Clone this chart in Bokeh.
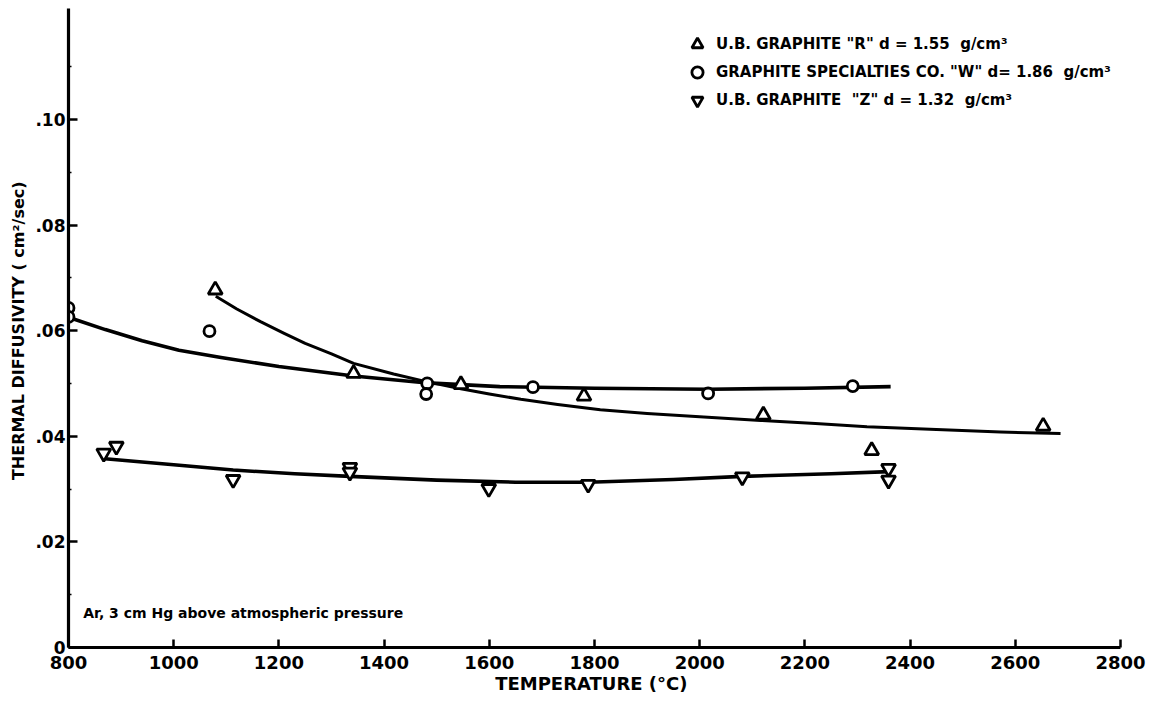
from bokeh.plotting import figure
from bokeh.models import FixedTicker, Legend, LegendItem, Label, Range1d
from bokeh.embed import file_html
from bokeh.resources import INLINE

# Measured points, temperature (deg C) vs thermal diffusivity (cm^2/sec)
r_temp = [1079, 1342, 1546, 1780, 2121, 2327, 2653]
r_diff = [0.0677, 0.0519, 0.0498, 0.0476, 0.0440, 0.0373, 0.0419]

w_temp = [800, 800, 1068, 1482, 1480, 1683, 2016, 2291]
w_diff = [0.0643, 0.0626, 0.0599, 0.0500, 0.0480, 0.0493, 0.0481, 0.0495]

z_temp = [867, 891, 1113, 1335, 1335, 1599, 1788, 2081, 2359, 2359]
z_diff = [0.0368, 0.0381, 0.0318, 0.0341, 0.0332, 0.0301, 0.0309, 0.0323, 0.0339, 0.0317]

# Hand-faired curves through each set
r_fit_temp = [1080, 1120, 1165, 1210, 1250, 1300, 1342, 1418, 1482, 1546, 1600, 1660, 1730, 1811, 1900, 2000, 2116, 2220, 2318, 2450, 2572, 2686]
r_fit_diff = [0.0665, 0.0641, 0.0617, 0.0595, 0.0576, 0.0556, 0.0538, 0.0518, 0.0503, 0.0490, 0.0480, 0.0470, 0.0460, 0.0450, 0.0443, 0.0437, 0.0430, 0.0424, 0.0418, 0.0413, 0.0408, 0.0405]

w_fit_temp = [804, 870, 940, 1010, 1090, 1200, 1342, 1482, 1620, 1800, 2016, 2200, 2363]
w_fit_diff = [0.0624, 0.0602, 0.0581, 0.0563, 0.0549, 0.0532, 0.0514, 0.0501, 0.0494, 0.0491, 0.0489, 0.0491, 0.0494]

z_fit_temp = [864, 1000, 1113, 1230, 1335, 1500, 1650, 1788, 1950, 2081, 2250, 2360]
z_fit_diff = [0.0358, 0.0346, 0.0336, 0.0329, 0.0324, 0.0317, 0.0313, 0.0313, 0.0318, 0.0324, 0.0329, 0.0333]

x_ticks = [800, 1000, 1200, 1400, 1600, 1800, 2000, 2200, 2400, 2600, 2800]
y_ticks = [0, 0.02, 0.04, 0.06, 0.08, 0.10]
y_tick_labels = {0: "0", 0.02: ".02", 0.04: ".04", 0.06: ".06", 0.08: ".08", 0.1: ".10"}

legend_labels = [
    'U.B. GRAPHITE "R" d = 1.55  g/cm³',
    'GRAPHITE SPECIALTIES CO. "W" d= 1.86  g/cm³',
    'U.B. GRAPHITE  "Z" d = 1.32  g/cm³',
]

FONT = "DejaVu Sans"
INK = "#000000"

p = figure(width=1153, height=702, output_backend="svg", toolbar_location=None,
           x_range=Range1d(800, 2800), y_range=Range1d(0, 0.121),
           min_border_left=68, min_border_right=33, min_border_top=8,
           min_border_bottom=55)
p.outline_line_color = None
p.grid.visible = False
p.background_fill_color = "white"

# axes
for ax in (p.xaxis[0], p.yaxis[0]):
    ax.axis_line_width = 3.2
    ax.axis_line_color = INK
    ax.major_tick_line_width = 2.5
    ax.major_tick_line_color = INK
    ax.major_tick_out = 0
    ax.major_label_text_font = FONT
    ax.major_label_text_font_style = "bold"
    ax.major_label_text_color = INK
    ax.axis_label_text_font = FONT
    ax.axis_label_text_font_style = "bold"
    ax.axis_label_text_color = INK

p.xaxis.ticker = FixedTicker(ticks=x_ticks)
p.xaxis.major_tick_in = 8
p.xaxis.minor_tick_line_color = None
p.xaxis.major_label_text_font_size = "18px"
p.xaxis.major_label_standoff = 8
p.xaxis.axis_label = "TEMPERATURE  (°C)"
p.xaxis.axis_label_text_font_size = "18px"
p.xaxis.axis_label_standoff = 1

p.yaxis.ticker = FixedTicker(ticks=y_ticks,
                             minor_ticks=[0.01, 0.03, 0.05, 0.07, 0.09, 0.11])
p.yaxis.major_label_overrides = y_tick_labels
p.yaxis.major_tick_in = 9
p.yaxis.minor_tick_in = 3
p.yaxis.minor_tick_out = 0
p.yaxis.minor_tick_line_width = 1.5
p.yaxis.minor_tick_line_color = INK
p.yaxis.major_label_text_font_size = "17px"
p.yaxis.major_label_standoff = 3
p.yaxis.axis_label = "THERMAL  DIFFUSIVITY ( cm²/sec)"
p.yaxis.axis_label_text_font_size = "16px"
p.yaxis.axis_label_standoff = 4

# faired curves
p.line(w_fit_temp, w_fit_diff, line_color=INK, line_width=3.6, line_join="round")
p.line(r_fit_temp, r_fit_diff, line_color=INK, line_width=3.0, line_join="round")
p.line(z_fit_temp, z_fit_diff, line_color=INK, line_width=3.6, line_join="round")

# data points
r_pts = p.scatter(r_temp, r_diff, marker="triangle", size=14, fill_color="white",
                  line_color=INK, line_width=2.8)
w_pts = p.scatter(w_temp, w_diff, marker="circle", size=11, fill_color="white",
                  line_color=INK, line_width=2.8)
z_pts = p.scatter(z_temp, z_diff, marker="inverted_triangle", size=14,
                  fill_color="white", line_color=INK, line_width=2.8)

legend = Legend(items=[LegendItem(label=legend_labels[0], renderers=[r_pts]),
                       LegendItem(label=legend_labels[1], renderers=[w_pts]),
                       LegendItem(label=legend_labels[2], renderers=[z_pts])],
                location=(614, 533), orientation="vertical")
legend.border_line_color = None
legend.background_fill_alpha = 0
legend.padding = 0
legend.margin = 0
legend.spacing = 0
legend.label_height = 28
legend.glyph_height = 28
legend.glyph_width = 30
legend.label_standoff = 4
legend.label_text_font = FONT
legend.label_text_font_style = "bold"
legend.label_text_font_size = "15px"
legend.label_text_color = INK
p.add_layout(legend)

# run condition note
p.add_layout(Label(x=828, y=0.0066, text="Ar, 3 cm Hg above atmospheric pressure",
                   text_align="left", text_baseline="middle", text_font=FONT,
                   text_font_style="bold", text_font_size="14px", text_color=INK))

open("out.html", "w").write(file_html(p, INLINE))
